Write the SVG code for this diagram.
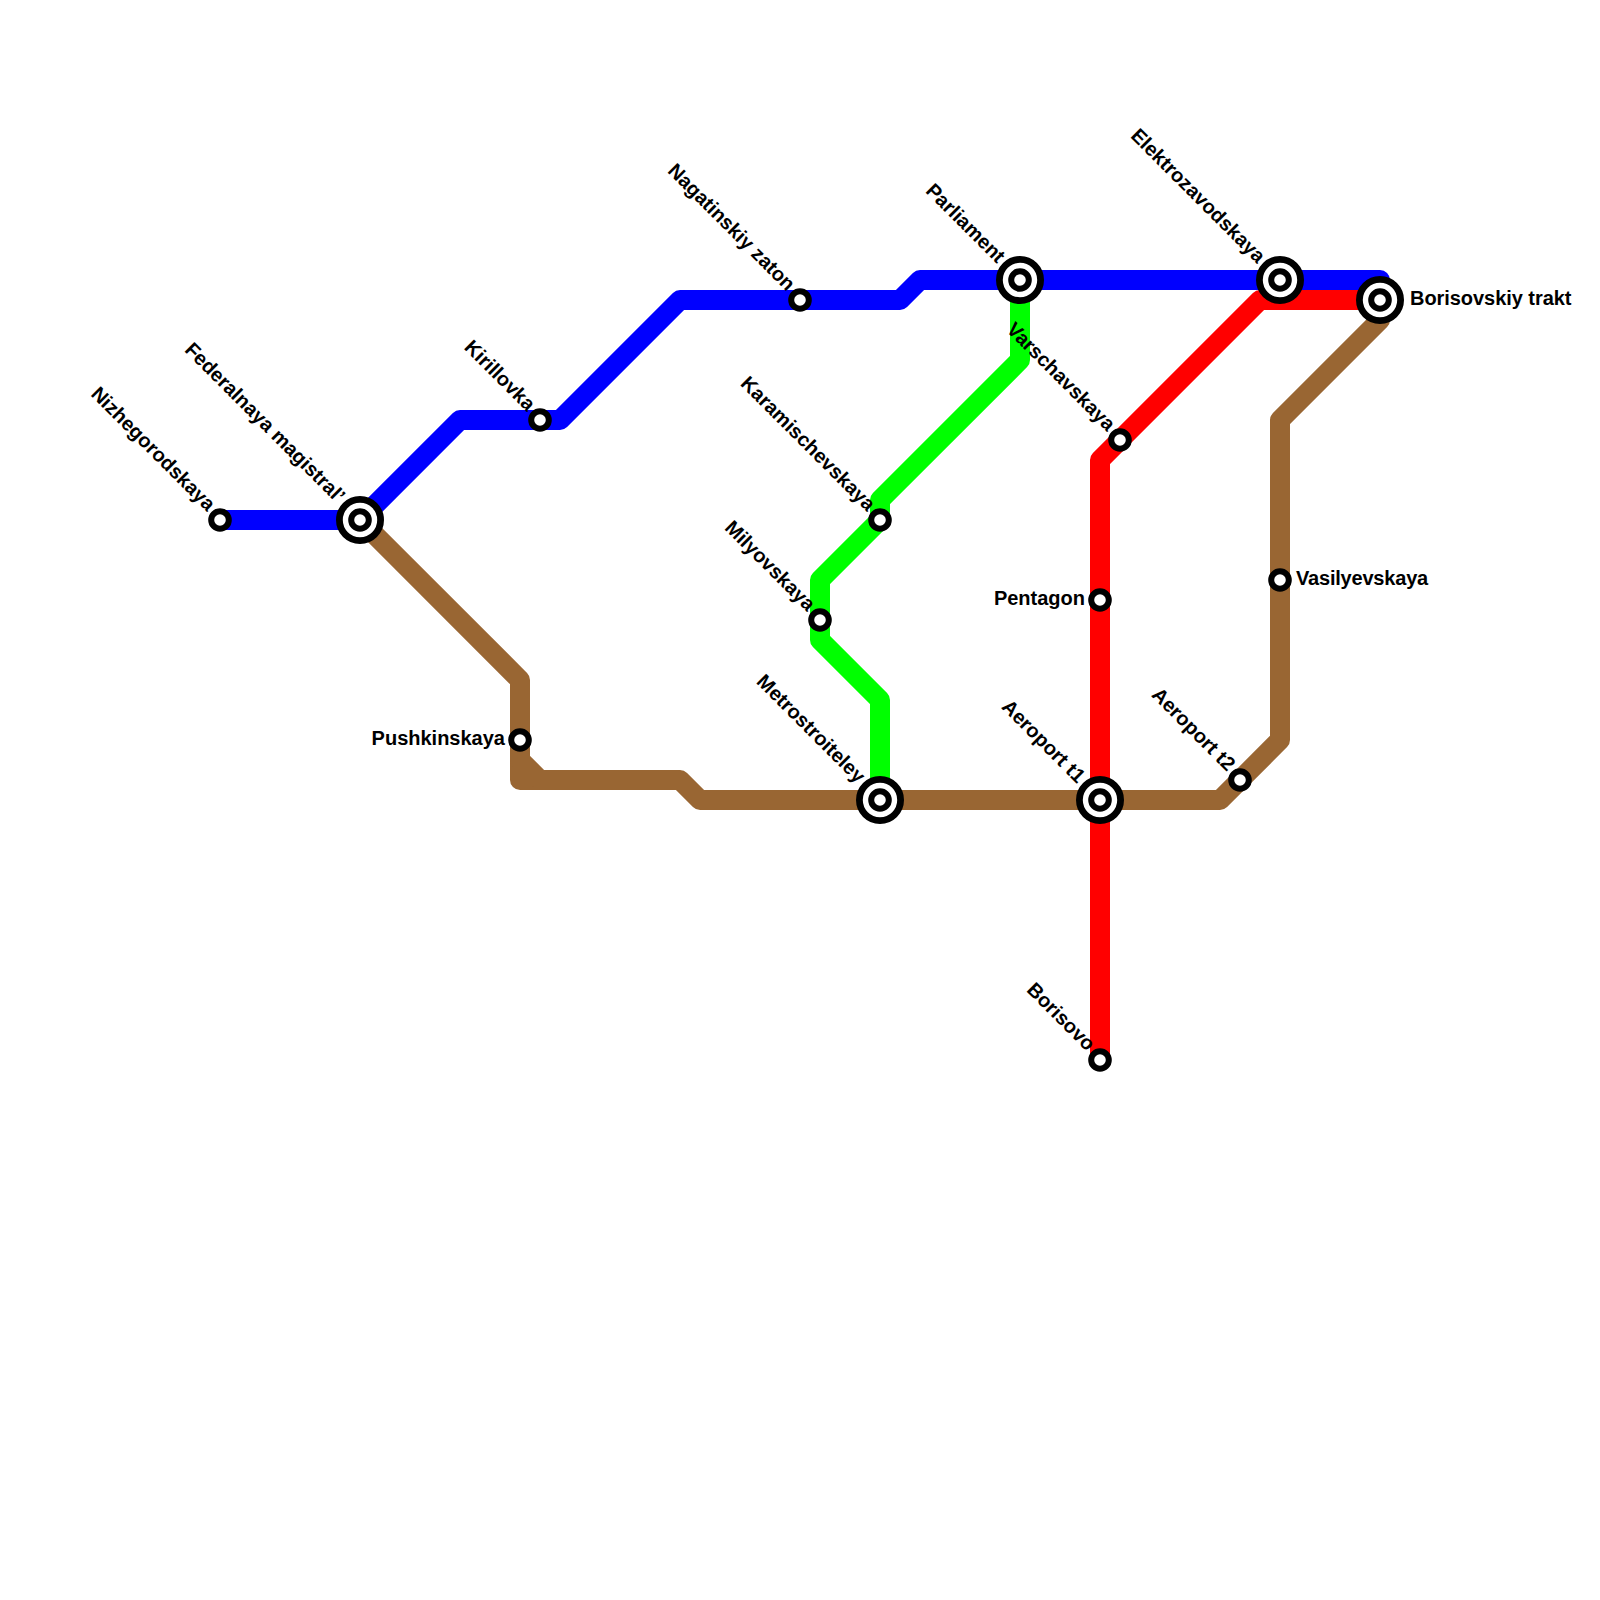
<svg xmlns="http://www.w3.org/2000/svg" width="1600" height="1600" viewBox="0 0 1600 1600">
<style>
.line{fill:none;stroke-width:20;stroke-linejoin:round;stroke-linecap:butt}
.ring{fill:#fff;stroke:#000;stroke-width:6}
.big{fill:#fff;stroke:#000;stroke-width:6.8}
text{font-family:"Liberation Sans",Arial,sans-serif;font-weight:bold;font-size:20px;fill:#000}
.l{text-anchor:end}
</style>
<defs>
<g id="s"><circle class="ring" r="8.8"/></g>
<g id="x"><circle class="big" r="20.6"/><circle class="ring" r="8.8"/></g>
</defs>
<rect width="1600" height="1600" fill="#fff"/>
<g id="connectors">
<path class="line" stroke="#0f0" d="M1020 280V360L880 500V520L820 580V640L880 700V800"/>
<path class="line" stroke="#996633" d="M360 520L520 680V780H680L700 800H1220L1280 740V420L1380 320V300"/>
<path class="line" stroke="#996633" d="M520 740V760L540 780"/>
<path class="line" stroke="#f00" d="M1100 1060V460L1260 300H1380"/>
<path class="line" stroke="#00f" d="M220 520H360L460 420H560L680 300H900L920 280H1380V300"/>
</g>
<g id="nizhegorodskaya"><use href="#s" x="220" y="520"/><text class="l" transform="translate(207 512) rotate(45)">Nizhegorodskaya</text></g>
<g id="federalnaya"><use href="#x" x="360" y="520"/><text class="l" transform="translate(337 504) rotate(45)">Federalnaya magistral’</text></g>
<g id="kirillovka"><use href="#s" x="540" y="420"/><text class="l" transform="translate(527 412) rotate(45)">Kirillovka</text></g>
<g id="nagatinskiy"><use href="#s" x="800" y="300"/><text class="l" transform="translate(787 292) rotate(45)">Nagatinskiy zaton</text></g>
<g id="parliament"><use href="#x" x="1020" y="280"/><text class="l" transform="translate(997 264) rotate(45)">Parliament</text></g>
<g id="elektrozavodskaya"><use href="#x" x="1280" y="280"/><text class="l" transform="translate(1257 264) rotate(45)">Elektrozavodskaya</text></g>
<g id="borisovskiy"><use href="#x" x="1380" y="300"/><text x="1410" y="305" letter-spacing="-0.05">Borisovskiy trakt</text></g>
<g id="varschavskaya"><use href="#s" x="1120" y="440"/><text class="l" transform="translate(1107 432) rotate(45)">Varschavskaya</text></g>
<g id="karamischevskaya"><use href="#s" x="880" y="520"/><text class="l" transform="translate(867 512) rotate(45)">Karamischevskaya</text></g>
<g id="milyovskaya"><use href="#s" x="820" y="620"/><text class="l" transform="translate(807 612) rotate(45)">Milyovskaya</text></g>
<g id="metrostroiteley"><use href="#x" x="880" y="800"/><text class="l" transform="translate(857 784) rotate(45)">Metrostroiteley</text></g>
<g id="aeroport-t1"><use href="#x" x="1100" y="800"/><text class="l" transform="translate(1077 784) rotate(45)">Aeroport t1</text></g>
<g id="aeroport-t2"><use href="#s" x="1240" y="780"/><text class="l" transform="translate(1227 772) rotate(45)">Aeroport t2</text></g>
<g id="vasilyevskaya"><use href="#s" x="1280" y="580"/><text x="1296" y="585" letter-spacing="-0.2">Vasilyevskaya</text></g>
<g id="pentagon"><use href="#s" x="1100" y="600"/><text class="l" x="1085" y="605">Pentagon</text></g>
<g id="borisovo"><use href="#s" x="1100" y="1060"/><text class="l" transform="translate(1087 1052) rotate(45)">Borisovo</text></g>
<g id="pushkinskaya"><use href="#s" x="520" y="740"/><text class="l" x="505" y="745">Pushkinskaya</text></g>
</svg>
